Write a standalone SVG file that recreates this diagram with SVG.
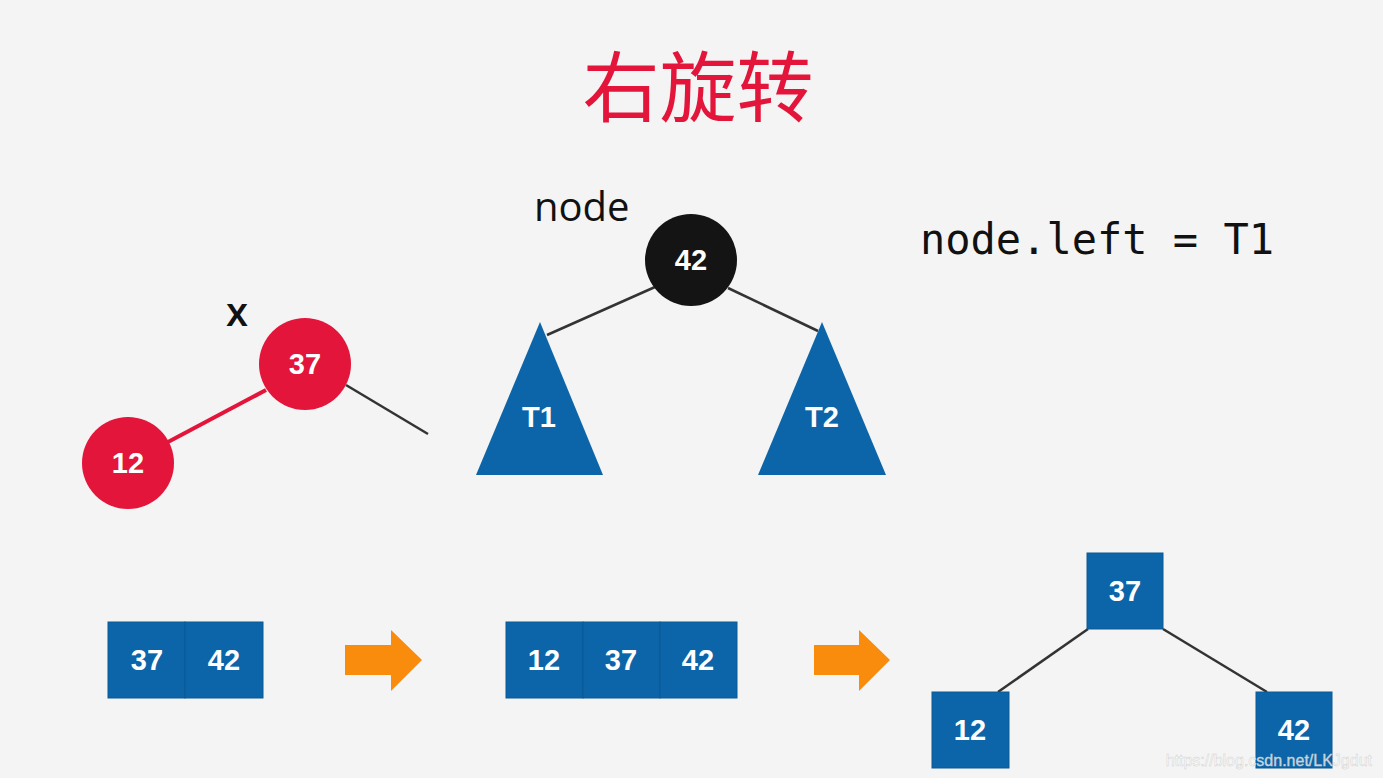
<svg xmlns="http://www.w3.org/2000/svg" width="1383" height="778" viewBox="0 0 1383 778">
<defs>
<style>
.num{font-family:"Liberation Sans",Arial,sans-serif;font-weight:bold;font-size:29px;fill:#ffffff;text-anchor:middle;dominant-baseline:central}
.lbl{font-family:"Open Sans","DejaVu Sans",sans-serif;font-size:40px;fill:#111}
.mono{font-family:"DejaVu Sans Mono","Liberation Mono",monospace;font-size:42px;fill:#111}
.box{fill:#0c65a8;stroke:#0a5a96;stroke-width:1}
.edge{stroke:#333;stroke-width:2.5;fill:none}
.red{fill:#e3153a}
.arrow{fill:#f98c0d}
</style>
</defs>
<rect width="1383" height="778" fill="#f4f4f4"/>
<text x="698" y="116" font-family="'Noto Sans CJK SC',sans-serif" font-size="77" fill="#e3153a" text-anchor="middle">右旋转</text>
<g id="connectors">
<line class="edge" x1="655" y1="287" x2="547" y2="335"/>
<line class="edge" x1="728" y1="288" x2="818" y2="331"/>
<line x1="266" y1="390" x2="168" y2="442" stroke="#e3153a" stroke-width="4"/>
<line class="edge" x1="346" y1="385" x2="428" y2="434"/>
<line class="edge" x1="1088" y1="629" x2="998" y2="692"/>
<line class="edge" x1="1163" y1="629" x2="1267" y2="692"/>
</g>
<g id="node-label"><text class="lbl" x="534" y="221">node</text></g>
<g id="x-label"><text class="lbl" x="226" y="326" font-size="40" font-weight="600">x</text></g>
<g id="code"><text class="mono" x="920" y="254">node.left = T1</text></g>
<g id="n42"><circle cx="691" cy="260" r="46" fill="#141414"/><text class="num" x="691" y="260">42</text></g>
<g id="T1"><polygon points="540,322 476,475 603,475" fill="#0c65a8"/><text class="num" x="539" y="417">T1</text></g>
<g id="T2"><polygon points="822,322 758,475 886,475" fill="#0c65a8"/><text class="num" x="822" y="417">T2</text></g>
<g id="n37"><circle class="red" cx="305" cy="364" r="46"/><text class="num" x="305" y="364">37</text></g>
<g id="n12"><circle class="red" cx="128" cy="463" r="46"/><text class="num" x="128" y="463">12</text></g>
<g id="arr1"><rect x="108" y="622" width="77" height="76" class="box"/><rect x="185" y="622" width="78" height="76" class="box"/><text class="num" x="147" y="660">37</text><text class="num" x="224" y="660">42</text></g>
<g id="arrow1"><polygon class="arrow" points="345,645 391,645 391,630 422,660 391,691 391,675 345,675"/></g>
<g id="arr2"><rect x="506" y="622" width="77" height="76" class="box"/><rect x="583" y="622" width="77" height="76" class="box"/><rect x="660" y="622" width="77" height="76" class="box"/><text class="num" x="544" y="660">12</text><text class="num" x="621" y="660">37</text><text class="num" x="698" y="660">42</text></g>
<g id="arrow2"><polygon class="arrow" points="814,645 859,645 859,630 890,660 859,691 859,675 814,675"/></g>
<g id="b37"><rect x="1087" y="553" width="76" height="76" class="box"/><text class="num" x="1125" y="591">37</text></g>
<g id="b12"><rect x="932" y="692" width="77" height="76" class="box"/><text class="num" x="970" y="730">12</text></g>
<g id="b42"><rect x="1256" y="692" width="76" height="76" class="box"/><text class="num" x="1294" y="730">42</text></g>
<text x="1372" y="766" font-family="'Liberation Sans',Arial,sans-serif" font-size="16" fill="#ffffff" fill-opacity="0.75" stroke="#cccccc" stroke-width="0.4" text-anchor="end">https://blog.csdn.net/LKJgdut</text>
</svg>
